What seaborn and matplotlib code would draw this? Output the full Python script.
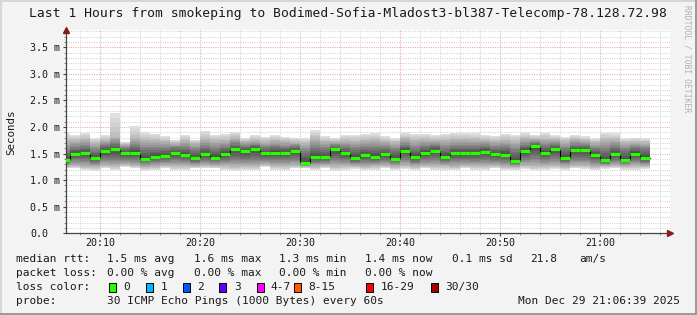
import numpy as np
import pandas as pd
import matplotlib
matplotlib.use("Agg")
import matplotlib.pyplot as plt
import seaborn as sns
from matplotlib.patches import Rectangle
from matplotlib.ticker import FixedLocator, MultipleLocator

# ---------------- data (ms) ----------------
# start minute (after 20:00) of each 1-minute bin
minutes = list(range(6, 65))
median = [1.37, 1.49, 1.51, 1.41, 1.55, 1.58, 1.505, 1.52, 1.40, 1.44,
          1.45, 1.505, 1.48, 1.41, 1.49, 1.42, 1.50, 1.59, 1.54, 1.59,
          1.505, 1.515, 1.515, 1.555, 1.32, 1.43, 1.43, 1.58, 1.51, 1.42,
          1.47, 1.44, 1.485, 1.40, 1.555, 1.43, 1.52, 1.555, 1.43, 1.505,
          1.505, 1.505, 1.53, 1.485, 1.48, 1.355, 1.555, 1.64, 1.52, 1.59,
          1.42, 1.575, 1.575, 1.47, 1.37, 1.485, 1.385, 1.50, 1.42]
smoke_min = [1.22, 1.22, 1.19, 1.18, 1.22, 1.19, 1.25, 1.22, 1.18, 1.19,
             1.22, 1.19, 1.19, 1.22, 1.22, 1.22, 1.19, 1.18, 1.19, 1.19,
             1.25, 1.20, 1.19, 1.22, 1.22, 1.19, 1.22, 1.18, 1.20, 1.21,
             1.19, 1.20, 1.22, 1.19, 1.21, 1.19, 1.22, 1.20, 1.20, 1.19,
             1.22, 1.20, 1.20, 1.22, 1.19, 1.19, 1.21, 1.19, 1.20, 1.21,
             1.19, 1.22, 1.21, 1.19, 1.21, 1.22, 1.20, 1.20, 1.21]
smoke_p10 = [1.26, 1.27, 1.25, 1.24, 1.27, 1.26, 1.29, 1.27, 1.24, 1.25,
             1.27, 1.26, 1.26, 1.26, 1.27, 1.26, 1.26, 1.25, 1.26, 1.26,
             1.29, 1.26, 1.26, 1.27, 1.25, 1.25, 1.27, 1.25, 1.26, 1.26,
             1.25, 1.26, 1.27, 1.25, 1.27, 1.25, 1.27, 1.26, 1.26, 1.25,
             1.27, 1.26, 1.26, 1.27, 1.25, 1.24, 1.27, 1.26, 1.26, 1.27,
             1.25, 1.27, 1.27, 1.25, 1.26, 1.27, 1.25, 1.26, 1.26]
smoke_q1 = [1.32, 1.37, 1.36, 1.33, 1.38, 1.38, 1.38, 1.37, 1.32, 1.34,
            1.35, 1.37, 1.36, 1.33, 1.36, 1.34, 1.36, 1.38, 1.37, 1.38,
            1.38, 1.37, 1.37, 1.38, 1.29, 1.33, 1.34, 1.38, 1.37, 1.33,
            1.35, 1.34, 1.36, 1.32, 1.38, 1.33, 1.37, 1.38, 1.34, 1.36,
            1.37, 1.36, 1.37, 1.36, 1.35, 1.30, 1.38, 1.40, 1.37, 1.39,
            1.33, 1.38, 1.38, 1.35, 1.31, 1.36, 1.32, 1.36, 1.33]
smoke_q3 = [1.55, 1.62, 1.64, 1.57, 1.66, 1.70, 1.61, 1.66, 1.60, 1.60,
            1.60, 1.62, 1.62, 1.58, 1.64, 1.60, 1.63, 1.69, 1.64, 1.67,
            1.62, 1.64, 1.63, 1.64, 1.55, 1.62, 1.60, 1.66, 1.63, 1.60,
            1.62, 1.62, 1.62, 1.58, 1.67, 1.61, 1.64, 1.66, 1.61, 1.64,
            1.64, 1.64, 1.65, 1.62, 1.63, 1.58, 1.67, 1.71, 1.66, 1.68,
            1.60, 1.67, 1.66, 1.61, 1.59, 1.64, 1.58, 1.62, 1.60]
smoke_p90 = [1.74, 1.75, 1.78, 1.70, 1.76, 1.82, 1.68, 1.80, 1.76, 1.75,
             1.74, 1.70, 1.75, 1.70, 1.78, 1.75, 1.76, 1.80, 1.73, 1.76,
             1.73, 1.75, 1.73, 1.72, 1.70, 1.80, 1.74, 1.73, 1.75, 1.74,
             1.76, 1.77, 1.74, 1.71, 1.79, 1.76, 1.77, 1.76, 1.76, 1.78,
             1.78, 1.77, 1.76, 1.74, 1.76, 1.74, 1.79, 1.78, 1.78, 1.77,
             1.73, 1.77, 1.75, 1.71, 1.77, 1.77, 1.71, 1.72, 1.71]
smoke_max = [1.88, 1.85, 1.89, 1.79, 1.85, 2.26, 1.72, 2.02, 1.90, 1.87,
             1.83, 1.76, 1.85, 1.76, 1.93, 1.85, 1.87, 1.91, 1.80, 1.85,
             1.82, 1.85, 1.82, 1.80, 1.80, 1.94, 1.83, 1.80, 1.85, 1.85,
             1.87, 1.88, 1.83, 1.80, 1.90, 1.87, 1.87, 1.85, 1.87, 1.89,
             1.89, 1.88, 1.85, 1.83, 1.87, 1.85, 1.90, 1.85, 1.89, 1.85,
             1.82, 1.85, 1.83, 1.80, 1.89, 1.88, 1.80, 1.80, 1.80]

xtick_pos = [10, 20, 30, 40, 50, 60]
xtick_labels = ["20:10", "20:20", "20:30", "20:40", "20:50", "21:00"]
ytick_pos = [0.0, 0.5, 1.0, 1.5, 2.0, 2.5, 3.0, 3.5]
ytick_labels = ["0.0", "0.5 m", "1.0 m", "1.5 m", "2.0 m", "2.5 m", "3.0 m", "3.5 m"]

title = "Last 1 Hours from smokeping to Bodimed-Sofia-Mladost3-bl387-Telecomp-78.128.72.98"
loss_labels = ["0", "1", "2", "3", "4-7", "8-15", "16-29", "30/30"]
loss_colors = ["#26ff00", "#00b8ff", "#0059ff", "#5e00ff", "#ff00ff", "#ff5500", "#ff0000", "#a10000"]

# ---------------- figure ----------------
W, H = 697, 315
MONO = "DejaVu Sans Mono"
plt.rcParams["font.family"] = MONO
fig = plt.figure(figsize=(W / 100, H / 100), dpi=100, facecolor="#f3f3f3")

def fx(px):
    return px / W

def fy(py):
    return 1 - py / H

ax_left, ax_right, ax_top, ax_bot = 66, 670, 30.3, 233.3
ax = fig.add_axes([fx(ax_left), fy(ax_bot), (ax_right - ax_left) / W, (ax_bot - ax_top) / H])
ax.set_facecolor("white")

df = pd.DataFrame({"minute": minutes, "median": median, "min": smoke_min, "p10": smoke_p10,
                   "q1": smoke_q1, "q3": smoke_q3, "p90": smoke_p90, "max": smoke_max})

xs = np.append(df["minute"].to_numpy(), df["minute"].iloc[-1] + 1)
def ext(col):
    v = df[col].to_numpy()
    return np.append(v, v[-1])

levels = [ext("min"), ext("p10"), ext("q1"), ext("median"), ext("q3"), ext("p90"), ext("max")]
nsub = 5
for i in range(6):
    a, b = levels[i], levels[i + 1]
    for j in range(nsub):
        lo = a + (b - a) * j / nsub
        hi = a + (b - a) * (j + 1) / nsub
        t = (j + 0.5) / nsub
        depth = (i + t) / 3 if i < 3 else (6 - i - t) / 3
        g = 0.88 - 0.62 * depth ** 1.3
        ax.fill_between(xs, lo, hi, step="post", color=(g, g, g), lw=0, zorder=1)

# median line (black step) and loss-colour bars
line_df = pd.DataFrame({"x": xs, "y": ext("median")})
sns.lineplot(data=line_df, x="x", y="y", drawstyle="steps-post", color="black",
             lw=0.8, estimator=None, ax=ax, zorder=2)
ax.hlines(df["median"], df["minute"], df["minute"] + 1, colors=loss_colors[0], lw=2.3, zorder=3)

ax.set_xlim(6.6, 67.0)
ax.set_ylim(0, 3.82)
ax.set_xlabel("")
ax.set_ylabel("")

ax.xaxis.set_major_locator(FixedLocator(xtick_pos))
ax.set_xticklabels(xtick_labels)
ax.xaxis.set_minor_locator(MultipleLocator(2))
ax.yaxis.set_major_locator(FixedLocator(ytick_pos))
ax.set_yticklabels(ytick_labels)
ax.yaxis.set_minor_locator(MultipleLocator(0.1))

ax.set_axisbelow(True)
ax.grid(which="minor", color="#d2d2d2", ls=(0, (1, 1.2)), lw=0.75)
ax.grid(which="major", color="#eda8a8", ls=(0, (1, 1.2)), lw=0.75)

for s in ["top", "right"]:
    ax.spines[s].set_visible(False)
for s in ["left", "bottom"]:
    ax.spines[s].set_color("#444444")
    ax.spines[s].set_linewidth(0.9)

ax.tick_params(axis="both", which="major", length=2.5, width=0.8, color="#444444",
               labelsize=7.2, labelcolor="#1a1a1a")
ax.tick_params(axis="both", which="minor", length=1.5, width=0.6, color="#777777")
ax.tick_params(axis="x", pad=1.0)
ax.tick_params(axis="y", pad=23.4)
for lbl in ax.get_yticklabels():
    lbl.set_horizontalalignment("left")

# axis arrows
ax.plot([0], [1], marker="^", ms=4.5, color="#8b1a1a", transform=ax.transAxes, clip_on=False, zorder=5)
ax.plot([1], [0], marker=">", ms=4.5, color="#8b1a1a", transform=ax.transAxes, clip_on=False, zorder=5)

# texts
fig.text(fx(348), fy(14), title, ha="center", va="center", fontsize=9.4, color="#1a1a1a", family=MONO)
fig.text(fx(11), fy(132), "Seconds", rotation=90, ha="center", va="center", fontsize=7.8,
         color="#1a1a1a", family=MONO)
fig.text(fx(687), fy(5), "RRDTOOL / TOBI OETIKER", rotation=270, ha="center", va="top",
         fontsize=5.8, color="#b0b0b0", family=MONO)

LFS = 8.0
row_y = [259.3, 273.5, 287.0, 301.0]
row1 = [(16, "median rtt:"), (107.3, "1.5 ms avg"), (194, "1.6 ms max"), (279.3, "1.3 ms min"),
        (365, "1.4 ms now"), (451.7, "0.1 ms sd"), (530, "21.8"), (579.3, "am/s")]
row2 = [(16, "packet loss:"), (107.3, "0.00 % avg"), (194, "0.00 % max"), (279.3, "0.00 % min"),
        (365, "0.00 % now")]
for x, s in row1:
    fig.text(fx(x), fy(row_y[0]), s, ha="left", va="center", fontsize=LFS, color="#1a1a1a")
for x, s in row2:
    fig.text(fx(x), fy(row_y[1]), s, ha="left", va="center", fontsize=LFS, color="#1a1a1a")

fig.text(fx(16), fy(row_y[2]), "loss color:", ha="left", va="center", fontsize=LFS, color="#1a1a1a")
box_x = [108.7, 146, 183.3, 219.3, 256.7, 294, 365.7, 431]
lab_x = [123.3, 160.7, 197.3, 234.3, 270.7, 308.3, 380.7, 445]
for bx, lx, lab, col in zip(box_x, lab_x, loss_labels, loss_colors):
    fig.patches.append(Rectangle((fx(bx), fy(291.5)), 7 / W, 9 / H, transform=fig.transFigure,
                                 facecolor=col, edgecolor="black", lw=0.7))
    fig.text(fx(lx), fy(row_y[2]), lab, ha="left", va="center", fontsize=LFS, color="#1a1a1a")

fig.text(fx(16), fy(row_y[3]), "probe:", ha="left", va="center", fontsize=LFS, color="#1a1a1a")
fig.text(fx(107.3), fy(row_y[3]), "30 ICMP Echo Pings (1000 Bytes) every 60s", ha="left",
         va="center", fontsize=LFS, color="#1a1a1a")
fig.text(fx(680.5), fy(row_y[3]), "Mon Dec 29 21:06:39 2025", ha="right", va="center",
         fontsize=LFS, color="#1a1a1a")

# 3D frame
fig.patches.append(Rectangle((0, 0), 1.5 / W, 1, transform=fig.transFigure, color="#d6d6d6", lw=0))
fig.patches.append(Rectangle((0, 1 - 1.5 / H), 1, 1.5 / H, transform=fig.transFigure, color="#d6d6d6", lw=0))
fig.patches.append(Rectangle((1 - 2 / W, 0), 2 / W, 1, transform=fig.transFigure, color="#9a9a9a", lw=0))
fig.patches.append(Rectangle((0, 0), 1, 2 / H, transform=fig.transFigure, color="#9a9a9a", lw=0))

fig.savefig("out.png", dpi=100, facecolor=fig.get_facecolor())
